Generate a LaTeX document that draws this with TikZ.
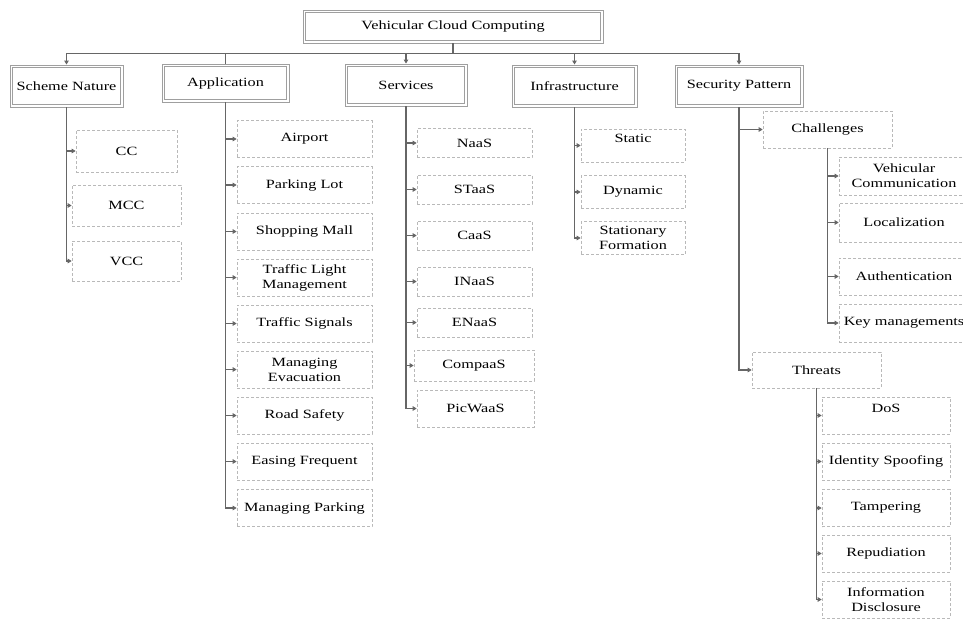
\documentclass[tikz,border=0pt]{standalone}
\usepackage{fontspec}
\setmainfont{Liberation Serif}[FakeStretch=1.29]
\usetikzlibrary{arrows.meta}

\begin{document}
\begin{tikzpicture}[x=1pt,y=-1pt,
    head/.style={draw=gray!75, line width=0.9pt, inner sep=0pt,
      font=\fontsize{12.6}{15}\selectfont,
      path picture={\draw[gray!75, line width=0.9pt]
        ([shift={(2.6pt,-2.6pt)}]path picture bounding box.north west) rectangle
        ([shift={(-2.6pt,2.6pt)}]path picture bounding box.south east);}},
    leaf/.style={draw=gray!55, densely dashed, line width=0.6pt, inner sep=0pt,
      align=center, font=\fontsize{12.6}{15}\selectfont},
    branch/.style={draw=black!60, line width=1.1pt, -{Triangle[length=4pt,width=4.5pt]}}]
    \useasboundingbox (0,0) rectangle (963,618);
    % top level
    \node[head, minimum width=300pt, minimum height=33pt] (vcc) at (453,26.5) {Vehicular Cloud Computing};
    \node[head, minimum width=113pt, minimum height=42pt] (scheme) at (66.5,86) {Scheme Nature};
    \node[head, minimum width=127pt, minimum height=38pt] (app) at (225.5,83) {Application};
    \node[head, minimum width=122pt, minimum height=42pt] (serv) at (406,85) {Services};
    \node[head, minimum width=125pt, minimum height=42pt] (infra) at (574.5,86) {Infrastructure};
    \node[head, minimum width=128pt, minimum height=42pt] (secu) at (739,86) {Security Pattern};
    \draw[branch] (vcc.south) -- ++(0,10) -| (scheme.north);
    \draw[branch, -] (vcc.south) -- ++(0,10) -| (app.north);
    \draw[branch] (vcc.south) -- ++(0,10) -| (serv.north);
    \draw[branch] (vcc.south) -- ++(0,10) -| (infra.north);
    \draw[branch] (vcc.south) -- ++(0,10) -| (secu.north);
    % scheme nature
    \node[leaf, minimum width=101pt, minimum height=42pt] (cc) at (126.5,151) {CC};
    \node[leaf, minimum width=109pt, minimum height=41pt] (mcc) at (126.5,205.5) {MCC};
    \node[leaf, minimum width=109pt, minimum height=40pt] (vc) at (126.5,261) {VCC};
    \foreach \n in {cc,mcc,vc}
      \draw[branch] (scheme.south) |- (\n.west);
    % application
    \foreach \n/\y/\t in {ap1/139/Airport, ap2/185/Parking Lot, ap3/231.5/Shopping Mall,
        ap4/277.5/{Traffic Light\\Management}, ap5/323.5/Traffic Signals,
        ap6/369.5/{Managing\\Evacuation}, ap7/415.5/Road Safety,
        ap8/461.5/Easing Frequent, ap9/508/Managing Parking}
    {
      \node[leaf, minimum width=135pt, minimum height=37pt] (\n) at (304.5,\y) {\t};
      \draw[branch] (app.south) |- (\n.west);
    }
    % services
    \foreach \n/\y/\t in {sv1/143/NaaS, sv2/189.5/STaaS, sv3/235.5/CaaS,
        sv4/281.5/INaaS, sv5/322.5/ENaaS}
    {
      \node[leaf, minimum width=115pt, minimum height=29pt] (\n) at (474.5,\y) {\t};
      \draw[branch] (serv.south) |- (\n.west);
    }
    \node[leaf, minimum width=120pt, minimum height=31pt] (sv6) at (474,365.5) {CompaaS};
    \node[leaf, minimum width=117pt, minimum height=37pt] (sv7) at (475.5,408.5) {PicWaaS};
    \draw[branch] (serv.south) |- (sv6.west);
    \draw[branch] (serv.south) |- (sv7.west);
    % infrastructure
    \node[leaf, minimum width=104pt, minimum height=33pt] (stat) at (633,145.5) {Static\\\mbox{}};
    \node[leaf, minimum width=104pt, minimum height=33pt] (dyn) at (633,192) {Dynamic};
    \node[leaf, minimum width=104pt, minimum height=33pt] (form) at (633,238) {Stationary\\Formation};
    \foreach \n in {stat,dyn,form}
      \draw[branch] (infra.south) |- (\n.west);
    % security pattern
    \node[leaf, minimum width=129pt, minimum height=37pt] (chal) at (827.5,129.5) {Challenges};
    \node[leaf, minimum width=129pt, minimum height=36pt] (thr) at (816.5,370) {Threats};
    \draw[branch] (secu.south) |- (chal.west);
    \draw[branch] (secu.south) |- (thr.west);
    % challenges
    \foreach \n/\y/\h/\t in {ch1/176/38/{Vehicular\\Communication}, ch2/222.5/39/Localization,
        ch3/276.5/37/Authentication, ch4/323/38/Key managements}
    {
      \node[leaf, minimum width=130pt, minimum height=\h pt] (\n) at (904,\y) {\t};
      \draw[branch] (chal.south) |- (\n.west);
    }
    % threats
    \foreach \n/\y/\t in {th1/415.5/{DoS\\\mbox{}}, th2/461.5/Identity Spoofing,
        th3/508/Tampering, th4/553.5/Repudiation, th5/599.5/{Information\\Disclosure}}
    {
      \node[leaf, minimum width=128pt, minimum height=37pt] (\n) at (886,\y) {\t};
      \draw[branch] (thr.south) |- (\n.west);
    }
  \end{tikzpicture}
\end{document}
